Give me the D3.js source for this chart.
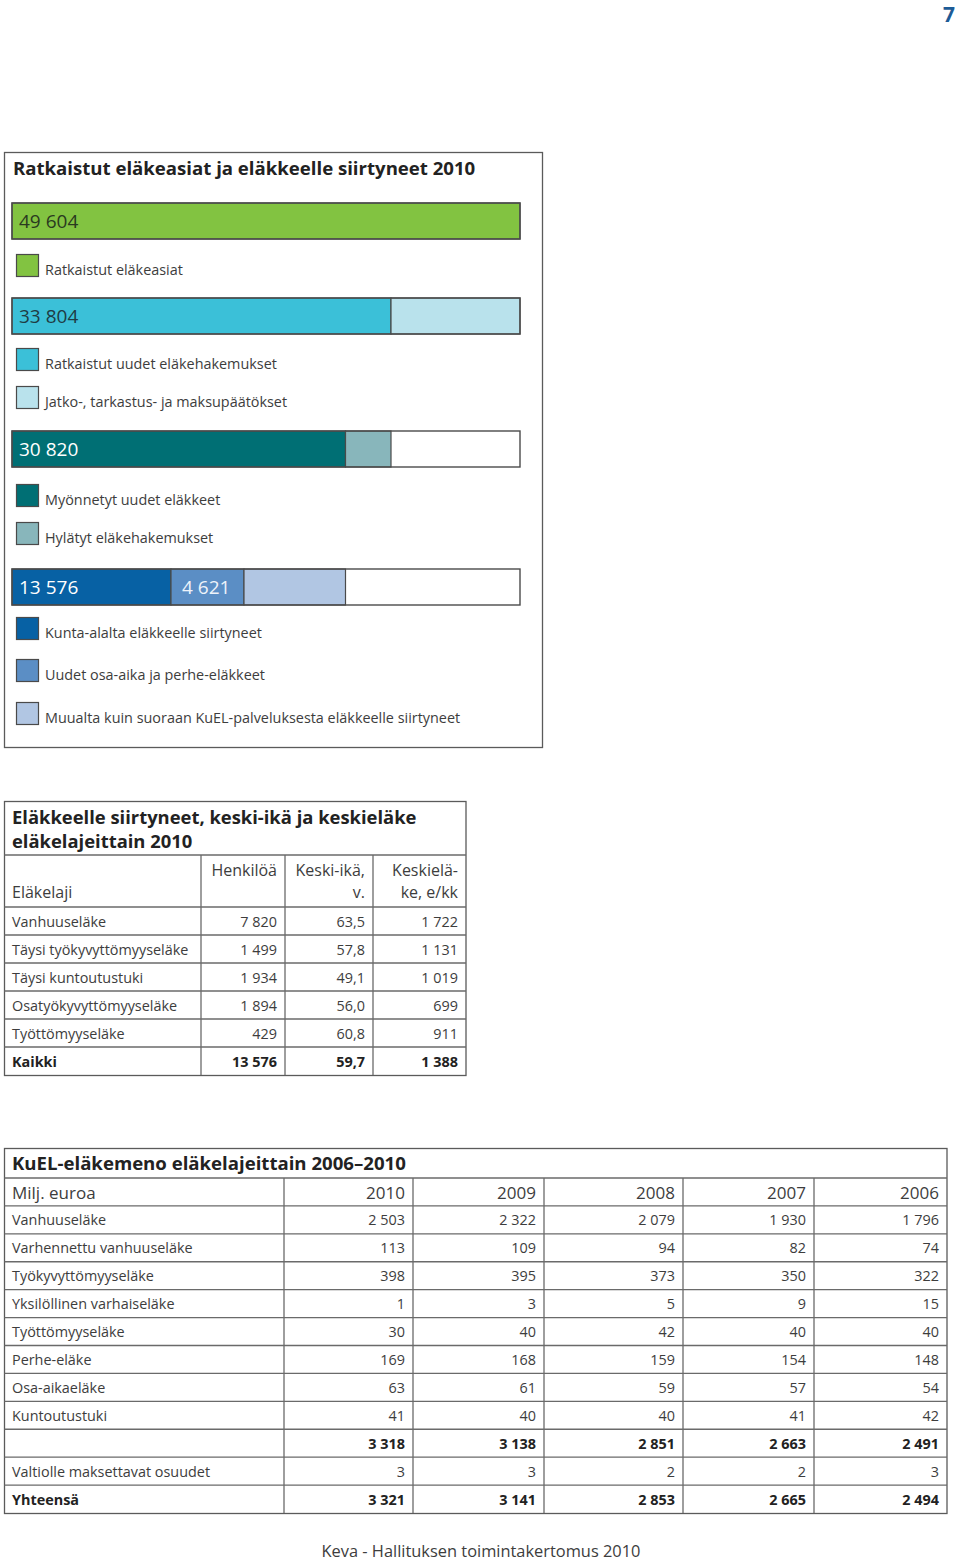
<!DOCTYPE html>
<html><head><meta charset="utf-8">
<script src="https://cdn.jsdelivr.net/npm/d3@7"></script>
<style>
body{margin:0;background:#fff}
svg{display:block}
text{font-family:"Open Sans","Noto Sans",sans-serif}
</style>
</head><body>
<svg id="c" width="960" height="1562"></svg>
<script>
// ---------- DATA ----------
const pageNumber = "7";
const footerText = "Keva - Hallituksen toimintakertomus 2010";

// Chart 1: Ratkaistut eläkeasiat ja eläkkeelle siirtyneet 2010
const chart1Title = "Ratkaistut eläkeasiat ja eläkkeelle siirtyneet 2010";
const bar1Names = ["Ratkaistut eläkeasiat"];
const bar1Values = [49604];
const bar2Names = ["Ratkaistut uudet eläkehakemukset", "Jatko-, tarkastus- ja maksupäätökset"];
const bar2Values = [33804, 15800];
const bar3Names = ["Myönnetyt uudet eläkkeet", "Hylätyt eläkehakemukset"];
const bar3Values = [30820, 2984];
const bar4Names = ["Kunta-alalta eläkkeelle siirtyneet", "Uudet osa-aika ja perhe-eläkkeet", "Muualta kuin suoraan KuEL-palveluksesta eläkkeelle siirtyneet"];
const bar4Values = [13576, 4621, 12623];
const bar1Labeled = [true];
const bar2Labeled = [true, false];
const bar3Labeled = [true, false];
const bar4Labeled = [true, true, false];

// Chart 2: Eläkkeelle siirtyneet, keski-ikä ja keskieläke eläkelajeittain 2010
const table2TitleLines = ["Eläkkeelle siirtyneet, keski-ikä ja keskieläke", "eläkelajeittain 2010"];
const table2RowLabel = "Eläkelaji";
const table2Headers = [["Henkilöä"], ["Keski-ikä,", "v."], ["Keskielä-", "ke, e/kk"]];
const table2Types = ["Vanhuuseläke", "Täysi työkyvyttömyyseläke", "Täysi kuntoutustuki", "Osatyökyvyttömyyseläke", "Työttömyyseläke", "Kaikki"];
const table2Persons = [7820, 1499, 1934, 1894, 429, 13576];
const table2AvgAge = [63.5, 57.8, 49.1, 56.0, 60.8, 59.7];
const table2AvgPension = [1722, 1131, 1019, 699, 911, 1388];
const table2Bold = [false, false, false, false, false, true];

// Chart 3: KuEL-eläkemeno eläkelajeittain 2006–2010
const table3Title = "KuEL-eläkemeno eläkelajeittain 2006–2010";
const table3Unit = "Milj. euroa";
const table3Years = ["2010", "2009", "2008", "2007", "2006"];
const table3Types = ["Vanhuuseläke", "Varhennettu vanhuuseläke", "Työkyvyttömyyseläke", "Yksilöllinen varhaiseläke", "Työttömyyseläke", "Perhe-eläke", "Osa-aikaeläke", "Kuntoutustuki", "", "Valtiolle maksettavat osuudet", "Yhteensä"];
const y2010 = [2503, 113, 398, 1, 30, 169, 63, 41, 3318, 3, 3321];
const y2009 = [2322, 109, 395, 3, 40, 168, 61, 40, 3138, 3, 3141];
const y2008 = [2079, 94, 373, 5, 42, 159, 59, 40, 2851, 2, 2853];
const y2007 = [1930, 82, 350, 9, 40, 154, 57, 41, 2663, 2, 2665];
const y2006 = [1796, 74, 322, 15, 40, 148, 54, 42, 2491, 3, 2494];
const table3Bold = [false, false, false, false, false, false, false, false, true, false, true];

// ---------- STYLE / LAYOUT ----------
const C = {
  text: "#3d3d3d", dark: "#222", line: "#6a6a6a", box: "#5a5a5a",
  green: "#82c341", cyan: "#3bc0d8", cyanL: "#b9e2ec",
  teal: "#006f74", tealL: "#88b6bb",
  blue: "#0761a4", blueM: "#5b8ec5", blueL: "#b1c6e3", num: "#1d5b96"
};
const FS = {title: 18.6, legend: 14.4, body: 14.4, head: 16, year: 17, bar: 19, footer: 16.4};
const fi = d3.formatLocale({decimal: ",", thousands: "\u00a0", grouping: [3], currency: ["", "\u00a0€"]});
const fInt = fi.format(",d");
const f1 = fi.format(",.1f");

const svg = d3.select("#c");
svg.append("rect").attr("width", 960).attr("height", 1562).attr("fill", "#fff");

// page number
svg.append("text").attr("x", 949).attr("y", 22).attr("text-anchor", "middle")
  .attr("font-size", 21).attr("font-weight", 700).attr("fill", C.num).text(pageNumber);

// ---------- CHART 1 ----------
const g1 = svg.append("g");
g1.append("rect").attr("x", 4.5).attr("y", 152.5).attr("width", 538).attr("height", 595)
  .attr("fill", "none").attr("stroke", C.box).attr("stroke-width", 1.3);
g1.append("text").attr("x", 13).attr("y", 175).attr("font-size", FS.title).attr("font-weight", 700)
  .attr("fill", C.dark).text(chart1Title);

const total = d3.sum(bar1Values);
// illustration uses uneven spacing: breakpoints at each cumulative segment end
const breaks = Array.from(new Set([0, ...d3.cumsum(bar4Values), ...d3.cumsum(bar3Values), ...d3.cumsum(bar2Values), total]))
  .filter(v => v <= total).sort((a, b) => a - b);
const x = d3.scaleLinear().domain(breaks).range([12, 171, 244, 345.5, 391, 520]);

const bars = [
  {names: bar1Names, values: bar1Values, labeled: bar1Labeled, colors: [C.green], txt: ["#2a3a20"], y: 203, legendY: [254]},
  {names: bar2Names, values: bar2Values, labeled: bar2Labeled, colors: [C.cyan, C.cyanL], txt: ["#1f3c44"], y: 298, legendY: [348, 386]},
  {names: bar3Names, values: bar3Values, labeled: bar3Labeled, colors: [C.teal, C.tealL], txt: ["#fff"], y: 431, legendY: [484, 522]},
  {names: bar4Names, values: bar4Values, labeled: bar4Labeled, colors: [C.blue, C.blueM, C.blueL], txt: ["#fff", "#eef3fa"], y: 569, legendY: [617, 659, 702]}
];
const barH = 36, sw = 22;
bars.forEach(b => {
  const g = g1.append("g");
  g.append("rect").attr("x", x(0)).attr("y", b.y).attr("width", x(total) - x(0)).attr("height", barH)
    .attr("fill", "#fff");
  const ends = d3.cumsum(b.values);
  const segs = b.values.map((v, i) => ({v, i, x0: ends[i] - v, x1: ends[i]}));
  g.selectAll("rect.seg").data(segs).join("rect").attr("class", "seg")
    .attr("x", d => x(d.x0)).attr("y", b.y).attr("width", d => x(d.x1) - x(d.x0)).attr("height", barH)
    .attr("fill", d => b.colors[d.i]).attr("stroke", "#4a4a4a").attr("stroke-width", 1.2);
  g.append("rect").attr("x", x(0)).attr("y", b.y).attr("width", x(total) - x(0)).attr("height", barH)
    .attr("fill", "none").attr("stroke", "#4a4a4a").attr("stroke-width", 1.4);
  g.selectAll("text.val").data(segs.filter(d => b.labeled[d.i])).join("text").attr("class", "val")
    .attr("x", d => x(d.x0) + 7 + (d.i ? 4 : 0)).attr("y", b.y + 25).attr("font-size", FS.bar)
    .attr("fill", d => b.txt[d.i] || b.txt[0]).text(d => fInt(d.v));
  // legend
  const lg = g.selectAll("g.leg").data(b.names).join("g").attr("class", "leg");
  lg.append("rect").attr("x", 16.5).attr("y", (d, i) => b.legendY[i] + 0.5).attr("width", sw).attr("height", sw)
    .attr("fill", (d, i) => b.colors[i]).attr("stroke", "#4a4a4a").attr("stroke-width", 1.2);
  lg.append("text").attr("x", 45).attr("y", (d, i) => b.legendY[i] + 21).attr("font-size", FS.legend)
    .attr("fill", C.text).text(d => d);
});

// ---------- TABLE 2 ----------
const g2 = svg.append("g");
const t2cols = d3.scaleOrdinal().domain(["label", "p", "a", "e"]).range([4, 201, 285, 373]);
const t2Right = 466, t2Top = 801, t2HeadTop = 855, t2RowTop = 907, t2RowH = 28;
const t2Bottom = t2RowTop + t2RowH * table2Types.length;
const ln = (g, x1, y1, x2, y2) => g.append("line").attr("x1", x1).attr("y1", y1).attr("x2", x2).attr("y2", y2)
  .attr("stroke", C.line).attr("stroke-width", 1.3);
g2.append("rect").attr("x", 4.5).attr("y", t2Top + 0.5).attr("width", t2Right - 4.5).attr("height", t2Bottom - t2Top)
  .attr("fill", "none").attr("stroke", C.box).attr("stroke-width", 1.3);
table2TitleLines.forEach((t, i) => g2.append("text").attr("x", 12).attr("y", t2Top + 23 + i * 24)
  .attr("font-size", 18.4).attr("font-weight", 700).attr("fill", C.dark).text(t));
ln(g2, 4.5, t2HeadTop, t2Right, t2HeadTop);
["p", "a", "e"].forEach(k => ln(g2, t2cols(k), t2HeadTop, t2cols(k), t2Bottom));
const colRight = k => k === "p" ? t2cols("a") : k === "a" ? t2cols("e") : t2Right;
g2.append("text").attr("x", 12).attr("y", t2HeadTop + 43).attr("font-size", FS.head).attr("fill", C.text).text(table2RowLabel);
["p", "a", "e"].forEach((k, ci) => {
  table2Headers[ci].forEach((h, li) => g2.append("text").attr("x", colRight(k) - 8).attr("y", t2HeadTop + 21 + li * 22)
    .attr("text-anchor", "end").attr("font-size", FS.head).attr("fill", C.text).text(h));
});
table2Types.forEach((t, i) => {
  const y0 = t2RowTop + i * t2RowH;
  ln(g2, 4.5, y0, t2Right, y0);
  const fw = table2Bold[i] ? 700 : 400;
  const cells = [[t2cols("label") + 8, t, "start"], [colRight("p") - 8, fInt(table2Persons[i]), "end"],
    [colRight("a") - 8, f1(table2AvgAge[i]), "end"], [colRight("e") - 8, fInt(table2AvgPension[i]), "end"]];
  cells.forEach(c => g2.append("text").attr("x", c[0]).attr("y", y0 + 19.5).attr("text-anchor", c[2])
    .attr("font-size", FS.body).attr("font-weight", fw).attr("fill", table2Bold[i] ? C.dark : C.text).text(c[1]));
});

// ---------- TABLE 3 ----------
const g3 = svg.append("g");
const t3Edges = [4, 284, 413, 544, 683, 814, 947];
const t3Top = 1148, t3HeadTop = 1178, t3Bottom = 1513;
const t3RowH = (t3Bottom - t3HeadTop) / (table3Types.length + 1);
const t3Series = [y2010, y2009, y2008, y2007, y2006];
g3.append("rect").attr("x", 4.5).attr("y", t3Top + 0.5).attr("width", t3Edges[6] - 4.5).attr("height", t3Bottom - t3Top)
  .attr("fill", "none").attr("stroke", C.box).attr("stroke-width", 1.3);
g3.append("text").attr("x", 12).attr("y", t3Top + 22).attr("font-size", 18.6).attr("font-weight", 700)
  .attr("fill", C.dark).text(table3Title);
ln(g3, 4.5, t3HeadTop, t3Edges[6], t3HeadTop);
t3Edges.slice(1, 6).forEach(e => ln(g3, e, t3HeadTop, e, t3Bottom));
g3.append("text").attr("x", 12).attr("y", t3HeadTop + 21).attr("font-size", FS.year).attr("fill", C.text).text(table3Unit);
table3Years.forEach((yr, j) => g3.append("text").attr("x", t3Edges[j + 2] - 8).attr("y", t3HeadTop + 21)
  .attr("text-anchor", "end").attr("font-size", FS.year).attr("fill", C.text).text(yr));
table3Types.forEach((t, i) => {
  const y0 = t3HeadTop + (i + 1) * t3RowH;
  ln(g3, 4.5, y0, t3Edges[6], y0);
  const fw = table3Bold[i] ? 700 : 400;
  const fill = table3Bold[i] ? C.dark : C.text;
  g3.append("text").attr("x", 12).attr("y", y0 + 19.5).attr("font-size", FS.body).attr("font-weight", fw)
    .attr("fill", fill).text(t);
  t3Series.forEach((s, j) => g3.append("text").attr("x", t3Edges[j + 2] - 8).attr("y", y0 + 19.5)
    .attr("text-anchor", "end").attr("font-size", FS.body).attr("font-weight", fw).attr("fill", fill).text(fInt(s[i])));
});

// footer
svg.append("text").attr("x", 481).attr("y", 1557).attr("text-anchor", "middle").attr("font-size", FS.footer)
  .attr("fill", C.text).text(footerText);
</script>
</body></html>
